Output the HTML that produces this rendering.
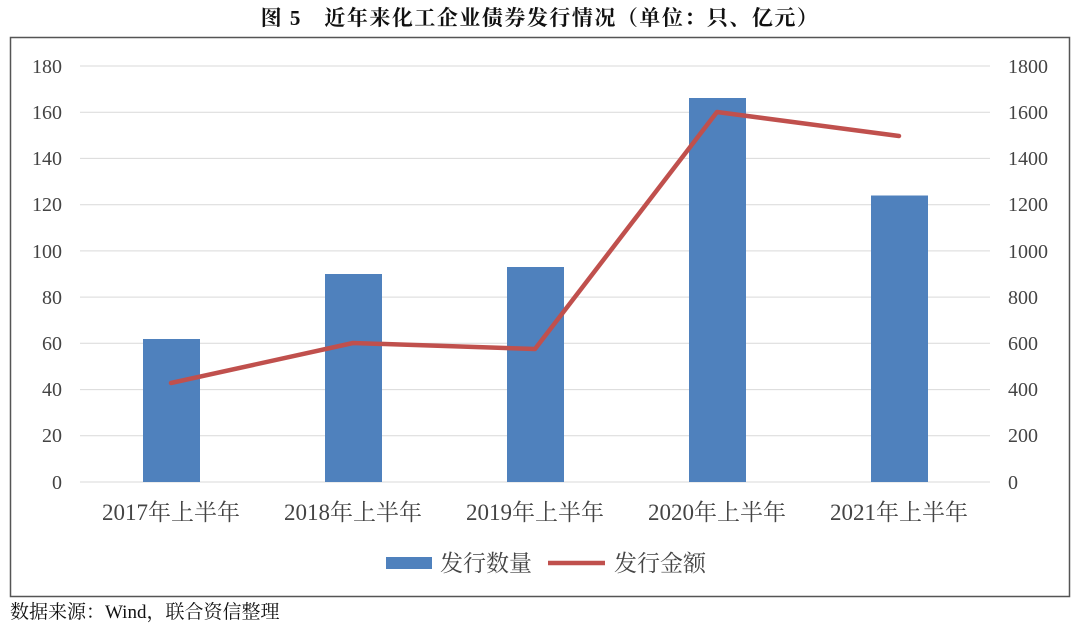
<!DOCTYPE html>
<html><head><meta charset="utf-8"><style>
html,body{margin:0;padding:0;background:#fff;width:1080px;height:628px;overflow:hidden}
text{font-family:"Liberation Serif","Noto Serif CJK SC",serif}
</style></head><body>
<svg width="1080" height="628" xmlns="http://www.w3.org/2000/svg">
<text x="540" y="25" text-anchor="middle" font-size="21" font-weight="bold" letter-spacing="1.5" fill="#111">图 5　近年来化工企业债券发行情况（单位：只、亿元）</text>
<rect x="10.5" y="37.5" width="1059" height="559" fill="none" stroke="#555" stroke-width="1.5"/>
<g stroke="#d9d9d9" stroke-width="1">
<line x1="80" x2="990" y1="66" y2="66"/><line x1="80" x2="990" y1="112.2" y2="112.2"/>
<line x1="80" x2="990" y1="158.4" y2="158.4"/><line x1="80" x2="990" y1="204.7" y2="204.7"/>
<line x1="80" x2="990" y1="250.9" y2="250.9"/><line x1="80" x2="990" y1="297.1" y2="297.1"/>
<line x1="80" x2="990" y1="343.3" y2="343.3"/><line x1="80" x2="990" y1="389.6" y2="389.6"/>
<line x1="80" x2="990" y1="435.8" y2="435.8"/><line x1="80" x2="990" y1="482" y2="482"/>
</g>
<g font-size="20" fill="#444" text-anchor="end">
<text x="62" y="73">180</text><text x="62" y="119">160</text><text x="62" y="165">140</text>
<text x="62" y="211">120</text><text x="62" y="258">100</text><text x="62" y="304">80</text>
<text x="62" y="350">60</text><text x="62" y="396">40</text><text x="62" y="442">20</text><text x="62" y="489">0</text>
</g>
<g font-size="20" fill="#444" text-anchor="start">
<text x="1008" y="73">1800</text><text x="1008" y="119">1600</text><text x="1008" y="165">1400</text>
<text x="1008" y="211">1200</text><text x="1008" y="258">1000</text><text x="1008" y="304">800</text>
<text x="1008" y="350">600</text><text x="1008" y="396">400</text><text x="1008" y="442">200</text><text x="1008" y="489">0</text>
</g>
<g fill="#4f81bd">
<rect x="143" y="339" width="57" height="143"/>
<rect x="325" y="274" width="57" height="208"/>
<rect x="507" y="267" width="57" height="215"/>
<rect x="689" y="98" width="57" height="384"/>
<rect x="871" y="195.5" width="57" height="286.5"/>
</g>
<polyline points="171,383 353,343 535,349 717,112 899,136" fill="none" stroke="#c0504d" stroke-width="4.5" stroke-linejoin="round" stroke-linecap="round"/>
<g font-size="23" fill="#444" text-anchor="middle">
<text x="171" y="520">2017年上半年</text><text x="353" y="520">2018年上半年</text>
<text x="535" y="520">2019年上半年</text><text x="717" y="520">2020年上半年</text>
<text x="899" y="520">2021年上半年</text>
</g>
<rect x="386" y="557" width="46" height="12" fill="#4f81bd"/>
<text x="440" y="571" font-size="23" fill="#444">发行数量</text>
<line x1="548" x2="605" y1="563" y2="563" stroke="#c0504d" stroke-width="4.5"/>
<text x="614" y="571" font-size="23" fill="#444">发行金额</text>
<text x="10" y="618" font-size="19" fill="#111">数据来源：Wind，联合资信整理</text>
</svg>
</body></html>
